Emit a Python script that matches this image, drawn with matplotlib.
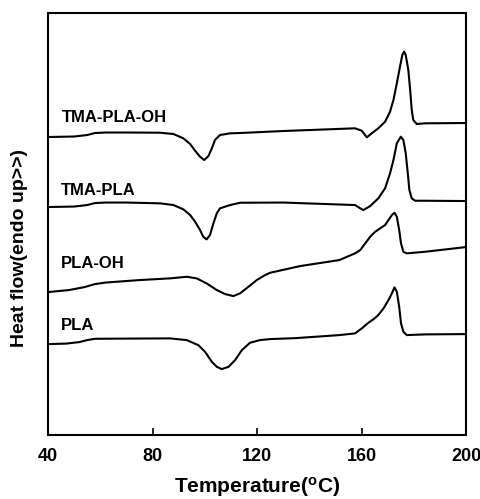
import matplotlib.pyplot as plt

plt.rcParams['font.family'] = ['Liberation Sans', 'DejaVu Sans']
plt.rcParams['font.weight'] = 'bold'
plt.rcParams['mathtext.fontset'] = 'custom'
plt.rcParams['mathtext.rm'] = 'Liberation Sans:bold'
plt.rcParams['mathtext.bf'] = 'Liberation Sans:bold'

# DSC traces (temperature in C, heat flow in arbitrary units)
t_tma_oh = [40, 50, 55, 58, 62, 70, 82.9, 88.0, 91.8, 94.4, 96.3, 98.2, 99.8, 101.4, 102.7,
            103.9, 105.8, 109.7, 113.5, 130, 157.5, 160.1, 162.0, 163.9, 166.4, 169.0, 170.9,
            172.2, 173.5, 174.7, 175.6, 176.3, 176.9, 177.9, 178.6, 179.2, 179.8, 181.1, 184.3, 200]
hf_tma_oh = [298, 298.5, 300, 302, 302.5, 302.5, 302.3, 301, 296.7, 291, 284.3, 278.3, 275, 279, 286.7,
             295, 300, 301.7, 302, 304, 306.7, 304.3, 297.7, 301.7, 306.7, 313.3, 323.3,
             335, 351.7, 368.3, 380, 383.3, 380, 365, 345, 325, 315, 311, 311.7, 312]

t_tma = [40, 50, 55, 58, 62, 70, 82.9, 88.0, 91.8, 94.4, 96.3, 98.2, 99.4, 100.7, 102.0,
         103.3, 104.6, 105.8, 109.7, 113.5, 130, 157.5, 159.5, 160.7, 163.3, 166.4, 169.0,
         170.9, 172.2, 173.5, 175.0, 176.0, 176.9, 177.7, 178.3, 179.2, 180.5, 184.3, 200]
hf_tma = [228, 228.5, 230, 232, 232.5, 232.5, 231.7, 230, 225.7, 220, 213.3, 205, 198.3, 195.7, 200,
          211.7, 221.7, 226.7, 230, 232.3, 232.5, 230, 226.7, 225, 229, 236.7, 246.7,
          261.7, 275, 291.7, 298.3, 295, 281.7, 261.7, 245, 236.7, 234.3, 234.3, 234]

t_pla_oh = [40, 48, 54, 58, 62, 75, 86.7, 93.1, 96.9, 100.7, 104.6, 107.8, 110.9, 113.5, 116.7,
            119.9, 123.1, 125, 136.5, 151.5, 157.5, 159.5, 161.4, 163.3, 165.2, 167.1, 169.0,
            170.3, 171.6, 172.6, 173.5, 174.4, 175.1, 176.0, 177.3, 184.3, 200]
hf_pla_oh = [143, 145, 148, 151, 152.5, 155, 156.7, 158.3, 156.7, 151.7, 145, 141, 139, 141.7, 148.3,
             155, 160, 162.3, 169, 175, 181.7, 185, 191.7, 198.3, 203.3, 206.7, 210,
             215, 220, 222.3, 218.3, 205, 191.7, 183.3, 181.7, 183.3, 188]

t_pla = [40, 47, 52, 55, 58, 70, 86.7, 93.1, 97.5, 100.1, 102.7, 104.6, 106.5, 109.1, 111.6,
         114.2, 117.3, 121.1, 125, 135, 151.5, 157.5, 160.1, 162.6, 164.5, 166.4, 168.4,
         170.3, 171.6, 172.6, 173.5, 174.4, 175.1, 176.0, 177.3, 184.3, 200]
hf_pla = [91, 91.5, 93, 95, 96.3, 96.5, 96.7, 95, 90, 83.3, 73.3, 68.3, 66, 68.3, 75,
          85, 92.3, 95, 96, 97, 100, 101.7, 106.7, 112.3, 115.7, 120, 126.7,
          135, 141.7, 147.7, 143.3, 128.3, 111.7, 103.3, 100, 100.7, 101]

fig = plt.figure(figsize=(4.8, 4.99), dpi=100)
ax = fig.add_axes([0.1, 0.128, 0.871, 0.846])

for t, hf in [(t_tma_oh, hf_tma_oh), (t_tma, hf_tma), (t_pla_oh, hf_pla_oh), (t_pla, hf_pla)]:
    ax.plot(t, hf, color='black', lw=1.5, solid_joinstyle='round')

ax.text(45.5, 318, 'TMA-PLA-OH', fontsize=12, fontweight='bold', va='center')
ax.text(45, 245, 'TMA-PLA', fontsize=12, fontweight='bold', va='center')
ax.text(45, 172, 'PLA-OH', fontsize=12, fontweight='bold', va='center')
ax.text(45, 110, 'PLA', fontsize=12, fontweight='bold', va='center')

ax.set_xlim(40, 200)
ax.set_ylim(0, 422)
ax.set_xticks([40, 80, 120, 160, 200])
ax.set_yticks([])
ax.tick_params(axis='x', direction='in', length=5, width=1.2, pad=9, labelsize=13)
for s in ax.spines.values():
    s.set_linewidth(1.5)

fig.text(257 / 480, 1 - 487 / 499, 'Temperature($\\mathbf{^{o}}$C)', ha='center', va='center',
         fontsize=15, fontweight='bold')
fig.text(20 / 480, 1 - 248 / 499, 'Heat flow(endo up>>)', ha='center', va='center',
         rotation=90, fontsize=14, fontweight='bold')

fig.savefig('out.png', dpi=100)
